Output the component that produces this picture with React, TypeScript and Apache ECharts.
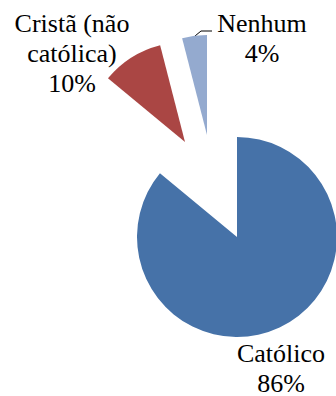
import React, { useEffect, useRef } from "react";
import * as echarts from "echarts";

const categories = ["Católico", "Cristã (não\ncatólica)", "Nenhum"];
const values = [86, 10, 4];
const colors = ["#4672A8", "#AA4644", "#94AACF"];
// pixel centre of each (exploded) slice
const sliceCenters = [
  [237, 237],
  [185, 142],
  [207, 135],
];
const labelPos = [
  [281, 338],
  [72, 8],
  [262, 8],
];

const FONT = "Liberation Serif";

export default function App() {
  const ref = useRef<HTMLDivElement>(null);
  useEffect(() => {
    if (!ref.current) return;
    const chart = echarts.init(ref.current, null, { renderer: "svg" });
    const total = values.reduce((a, b) => a + b, 0);
    const series = values.map((_, si) => ({
      type: "pie",
      center: sliceCenters[si],
      radius: 100,
      startAngle: 90,
      clockwise: true,
      silent: true,
      label: { show: false },
      labelLine: { show: false },
      emphasis: { disabled: true },
      data: values.map((v, i) => ({
        name: categories[i],
        value: v,
        itemStyle: { color: i === si ? colors[i] : "rgba(0,0,0,0)" },
      })),
    }));
    const texts = values.map((v, i) => ({
      type: "text",
      x: labelPos[i][0],
      y: labelPos[i][1],
      style: {
        text: `${categories[i]}\n${Math.round((v / total) * 100)}%`,
        fontFamily: FONT,
        fontSize: 26,
        fontWeight: "normal",
        fontStyle: "normal",
        lineHeight: 30,
        fill: "#000",
        align: "center",
        verticalAlign: "top",
      },
    }));
    chart.setOption({
      animation: false,
      backgroundColor: "#fff",
      textStyle: { fontFamily: FONT },
      series,
      graphic: [
        ...texts,
        {
          type: "polyline",
          shape: { points: [[195, 36], [201, 31], [212, 31]] },
          style: { stroke: "#000", lineWidth: 1, fill: "none" },
        },
      ],
    });
    return () => chart.dispose();
  }, []);
  return (
    <div
      ref={ref}
      style={{ position: "fixed", left: 0, top: 0, width: 336, height: 396 }}
    />
  );
}
